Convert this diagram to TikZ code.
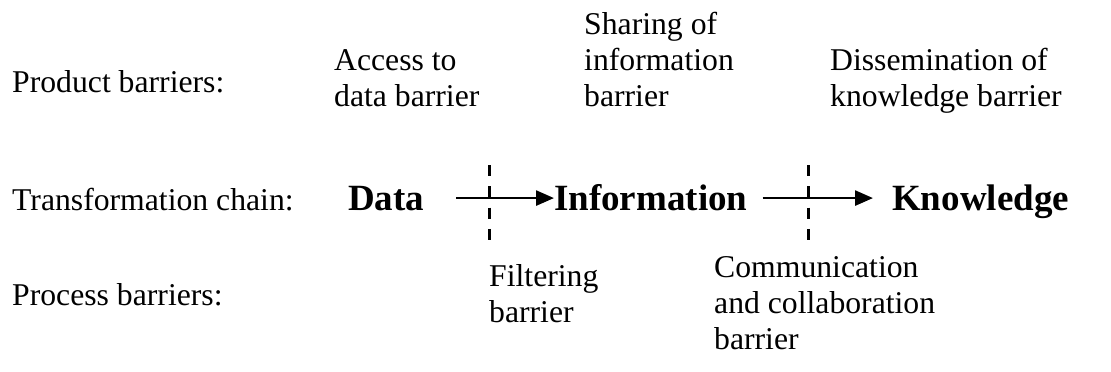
\documentclass[tikz,border=0pt]{standalone}
\usepackage{fontspec}
\setmainfont{Liberation Serif}
\usetikzlibrary{arrows.meta}
\begin{document}
\begin{tikzpicture}[x=1pt,y=-1pt,
  % multi-line labels: the base anchor sits on the last line
  lbl/.style={anchor=base west, inner sep=0pt, align=left,
    font=\fontsize{31.7}{36}\selectfont},
  stage/.style={anchor=base west, inner sep=0pt,
    font=\fontsize{37}{40}\selectfont\bfseries},
  flow/.style={line width=2.7pt, -{Triangle[length=18pt,width=15pt]}},
  cut/.style={line width=3pt, dash pattern=on 11pt off 10.3pt}]
\useasboundingbox (0,0) rectangle (1111,372);

% row labels
\node[lbl] (prodL) at (12,92)  {Product barriers:};
\node[lbl] (trL)   at (12,210) {Transformation chain:};
\node[lbl] (procL) at (12,305) {Process barriers:};

% product barriers
\node[lbl] (acc) at (334,106) {Access to\\data barrier};
\node[lbl] (shr) at (584,106) {Sharing of\\information\\barrier};
\node[lbl] (dis) at (830,106) {Dissemination of\\knowledge barrier};

% transformation chain
\node[stage] (dat) at (348,210) {Data};
\node[stage] (inf) at (554,210) {Information};
\node[stage] (kno) at (892,210) {Knowledge};

\draw[flow, shorten <=32pt] (dat.east) -- (dat.east -| inf.west);
\draw[flow, shorten <=15pt, shorten >=19pt] (inf.east |- dat.east) -- (dat.east -| kno.west);

% barrier cuts across the chain
\coordinate (cut1) at (489,198);
\coordinate (cut2) at (808,198);
\draw[cut] ([yshift=33pt]cut1) -- ([yshift=-42pt]cut1);
\draw[cut] ([yshift=33pt]cut2) -- ([yshift=-42pt]cut2);

% process barriers
\node[lbl] (fil) at (489,322) {Filtering\\barrier};
\node[lbl] (com) at (714,349) {Communication\\and collaboration\\barrier};
\end{tikzpicture}
\end{document}
